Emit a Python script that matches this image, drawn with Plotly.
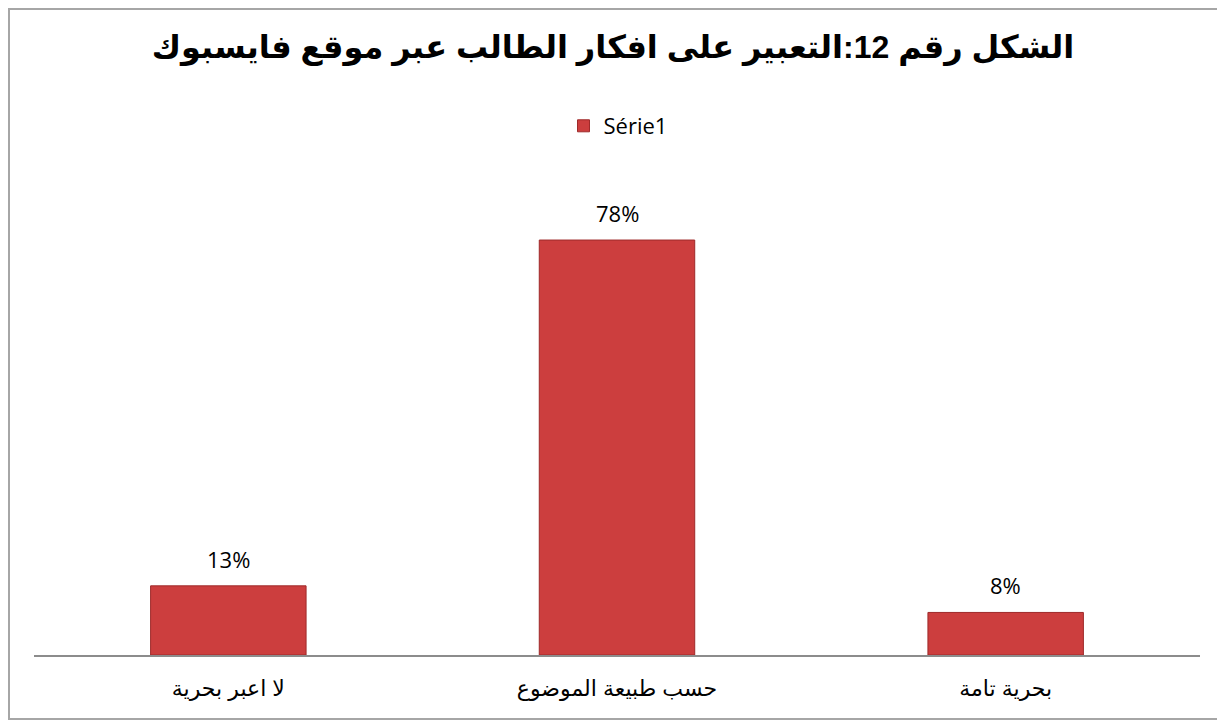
import plotly.graph_objects as go

categories = ["لا اعبر بحرية", "حسب طبيعة الموضوع", "بحرية تامة"]
values = [0.13, 0.78, 0.08]
labels = ["13%", "78%", "8%"]
series_name = "Série1"
title_text = "الشكل رقم 12:التعبير على افكار الطالب عبر موقع فايسبوك"

W, H = 1225, 722
OFF = 8  # page body margin of the rendered html

# target page-pixel geometry
PLOT_L, PLOT_R, AXIS_Y = 34, 1200, 655
PX_PER_UNIT = 532.0
PLOT_TOP = 176

ML = PLOT_L - OFF
MR = W - (PLOT_R - OFF)
MB = H - (AXIS_Y - OFF)
MT = PLOT_TOP - OFF
PW = W - ML - MR
PH = H - MT - MB


def px_x(p):
    return (p - OFF - ML) / PW


def px_y(p):
    return (H - MB - (p - OFF)) / PH


fig = go.Figure()
fig.add_trace(go.Bar(
    x=categories,
    y=values,
    name=series_name,
    marker=dict(color="#CC3E3E", line=dict(color="#9E2A2A", width=1)),
    showlegend=True,
    hoverinfo="x+y",
))

annotations = [
    dict(
        x=c, y=v, xref="x", yref="y", text=t,
        showarrow=False, yanchor="bottom", yshift=10,
        font=dict(family="Open Sans, Liberation Sans, sans-serif", size=22, color="#000000"),
    )
    for c, v, t in zip(categories, values, labels)
]

fig.update_layout(
    width=W, height=H,
    margin=dict(l=ML, r=MR, t=MT, b=MB),
    paper_bgcolor="white",
    plot_bgcolor="white",
    bargap=0.6,
    title=dict(
        text="<b>" + title_text + "</b>",
        x=(613 - OFF) / W, xanchor="center",
        y=1 - (47 - OFF) / H, yanchor="middle",
        font=dict(family="Arial, Liberation Sans, DejaVu Sans, sans-serif", size=32, color="#000000"),
    ),
    legend=dict(
        orientation="h",
        x=px_x(618), xanchor="center",
        y=px_y(126), yanchor="middle",
        font=dict(family="Open Sans, Liberation Sans, sans-serif", size=22, color="#000000"),
        bgcolor="rgba(0,0,0,0)",
    ),
    xaxis=dict(
        showline=True, linecolor="#8C8C8C", linewidth=2,
        ticks="", showgrid=False,
        ticklabelstandoff=13,
        tickfont=dict(family="Arial, Liberation Sans, DejaVu Sans, sans-serif", size=22, color="#000000"),
    ),
    yaxis=dict(
        range=[0, PH / PX_PER_UNIT],
        visible=False, showgrid=False, zeroline=False,
    ),
    annotations=annotations,
    shapes=[dict(
        type="rect", xref="paper", yref="paper",
        x0=px_x(OFF + 1), x1=px_x(1240), y0=px_y(719), y1=px_y(OFF + 1),
        line=dict(color="#A6A6A6", width=2), fillcolor="rgba(0,0,0,0)",
        layer="below",
    )],
)

fig.write_html("out.html")
